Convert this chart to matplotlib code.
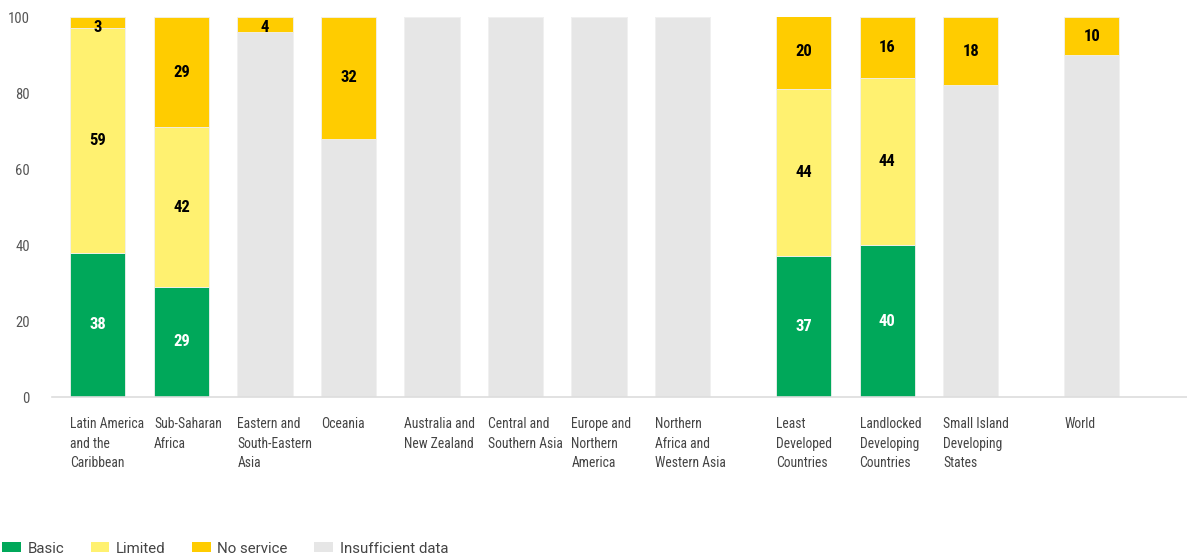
import numpy as np
import matplotlib
matplotlib.use("Agg")
import matplotlib.pyplot as plt
from matplotlib.patches import Patch
import matplotlib.transforms as mtransforms

# =========================
# Data
# =========================
regions = [
    "Latin America\nand the\nCaribbean",
    "Sub-Saharan\nAfrica",
    "Eastern and\nSouth-Eastern\nAsia",
    "Oceania",
    "Australia and\nNew Zealand",
    "Central and\nSouthern Asia",
    "Europe and\nNorthern\nAmerica",
    "Northern\nAfrica and\nWestern Asia",
    "Least\nDeveloped\nCountries",
    "Landlocked\nDeveloping\nCountries",
    "Small Island\nDeveloping\nStates",
    "World",
]
basic = [38, 29, 0, 0, 0, 0, 0, 0, 37, 40, 0, 0]
limited = [59, 42, 0, 0, 0, 0, 0, 0, 44, 44, 0, 0]
no_service = [3, 29, 4, 32, 0, 0, 0, 0, 20, 16, 18, 10]
insufficient = [0, 0, 96, 68, 100, 100, 100, 100, 0, 0, 82, 90]

# bar positions (groups separated by a gap)
xpos = np.array([0, 1, 2, 3, 4, 5, 6, 7, 8.45, 9.45, 10.45, 11.9])
width = 0.66

colors = {
    "Basic": "#00A85A",
    "Limited": "#FFF170",
    "No service": "#FFCC00",
    "Insufficient data": "#E6E6E6",
}

cond = ["Roboto Condensed", "Archivo Narrow", "DejaVu Sans"]

fig = plt.figure(figsize=(11.87, 5.58), dpi=100)
ax = fig.add_axes([0.0438, 0.2885, 0.9562, 0.681])

# stacking order: basic, limited, insufficient, no service on top
series = [
    ("Basic", basic, "white"),
    ("Limited", limited, "black"),
    ("Insufficient data", insufficient, None),
    ("No service", no_service, "black"),
]

bottom = np.zeros(len(xpos))
for name, vals, txtcol in series:
    vals = np.array(vals, dtype=float)
    ax.bar(xpos, vals, width=width, bottom=bottom, color=colors[name],
           edgecolor="#f0f0f0", linewidth=0.6, zorder=2)
    if txtcol is not None:
        for x, b, v in zip(xpos, bottom, vals):
            if v > 0:
                ax.text(x, min(b + v / 2, 97.2), f"{int(v)}", ha="center", va="center",
                        color=txtcol, fontsize=12, fontweight="bold",
                        family=cond, zorder=3)
    bottom += vals

ax.set_ylim(0, 100)
ax.set_xlim(-0.55, 13.04)
ax.set_yticks([0, 20, 40, 60, 80, 100])
ax.tick_params(axis="y", length=0, pad=16, labelcolor="#555555", labelsize=10.5)
for lab in ax.get_yticklabels():
    lab.set_family(cond)
ax.set_xticks([])

for s in ["top", "right", "left"]:
    ax.spines[s].set_visible(False)
ax.spines["bottom"].set_color("#dddddd")
ax.spines["bottom"].set_linewidth(1.2)

# category labels, left aligned under each bar
trans = mtransforms.offset_copy(ax.transData, fig=fig, x=0, y=-14.5, units="points")
for x, lab in zip(xpos, regions):
    ax.text(x - width / 2, 0, lab, ha="left", va="top", transform=trans,
            fontsize=9.8, color="#444444", linespacing=1.5, family=cond)

# legend
handles = [Patch(facecolor=colors[n], edgecolor="none", label=n) for n in colors]
leg = fig.legend(handles=handles, loc="center left", bbox_to_anchor=(0.0017, 0.017),
                 ncol=4, frameon=False, fontsize=10.8, handlelength=1.25,
                 handleheight=0.65, handletextpad=0.45, columnspacing=1.75,
                 borderpad=0, borderaxespad=0)
for t in leg.get_texts():
    t.set_color("#444444")
    t.set_family(["Roboto", "DejaVu Sans"])

plt.savefig("out.png", dpi=100)
